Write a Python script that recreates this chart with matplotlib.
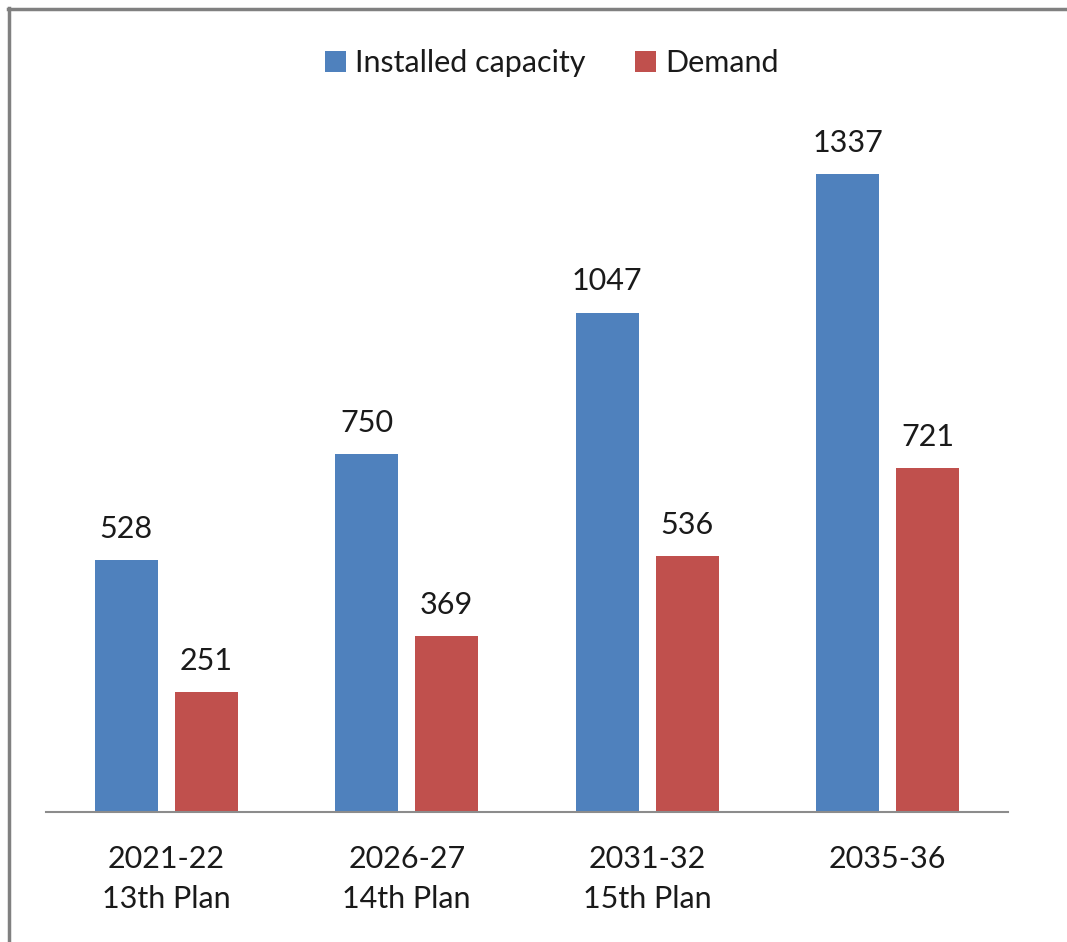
import numpy as np
import matplotlib.pyplot as plt

plt.rcParams['font.family'] = ['Lato', 'DejaVu Sans']

categories = ['2021-22\n13th Plan', '2026-27\n14th Plan', '2031-32\n15th Plan', '2035-36']
installed = [528, 750, 1047, 1337]
demand = [251, 369, 536, 721]

blue = '#4F81BD'
red = '#C0504D'

fig = plt.figure(figsize=(10.67, 9.42), dpi=100)
# plot area in figure fractions
ax = fig.add_axes([46 / 1067, 1 - 812 / 942, 962 / 1067, 680 / 942])

x = np.arange(len(categories))
w = 0.262
off = 0.166
b1 = ax.bar(x - off, installed, w, color=blue, label='Installed capacity')
b2 = ax.bar(x + off, demand, w, color=red, label='Demand')

for bars, vals in ((b1, installed), (b2, demand)):
    for rect, v in zip(bars, vals):
        ax.text(rect.get_x() + rect.get_width() / 2, v + 36, str(v),
                ha='center', va='bottom', fontsize=22, color='#1a1a1a')

ax.set_xlim(-0.5, len(categories) - 0.5)
ax.set_ylim(0, 680 / 0.477)
ax.set_yticks([])
ax.set_xticks(x)
ax.set_xticklabels(categories, fontsize=22, color='#1a1a1a', linespacing=1.5)
ax.tick_params(axis='x', length=0, pad=24)
for s in ('top', 'right', 'left'):
    ax.spines[s].set_visible(False)
ax.spines['bottom'].set_color('#8c8c8c')
ax.spines['bottom'].set_linewidth(1.5)

leg = fig.legend(loc='center', bbox_to_anchor=(552 / 1067, 1 - 63 / 942), ncol=2,
                 frameon=False, fontsize=22, handlelength=0.7, handleheight=0.7,
                 handletextpad=0.3, columnspacing=1.6)
for t in leg.get_texts():
    t.set_color('#1a1a1a')

# gray frame along the top and left edges
fig.add_artist(plt.Line2D([9 / 1067, 9 / 1067], [0, 1 - 8 / 942], color='#808080', lw=2.5,
                          transform=fig.transFigure))
fig.add_artist(plt.Line2D([8 / 1067, 1], [1 - 9 / 942, 1 - 9 / 942], color='#808080', lw=2.5,
                          transform=fig.transFigure))

fig.savefig('out.png', dpi=100)
